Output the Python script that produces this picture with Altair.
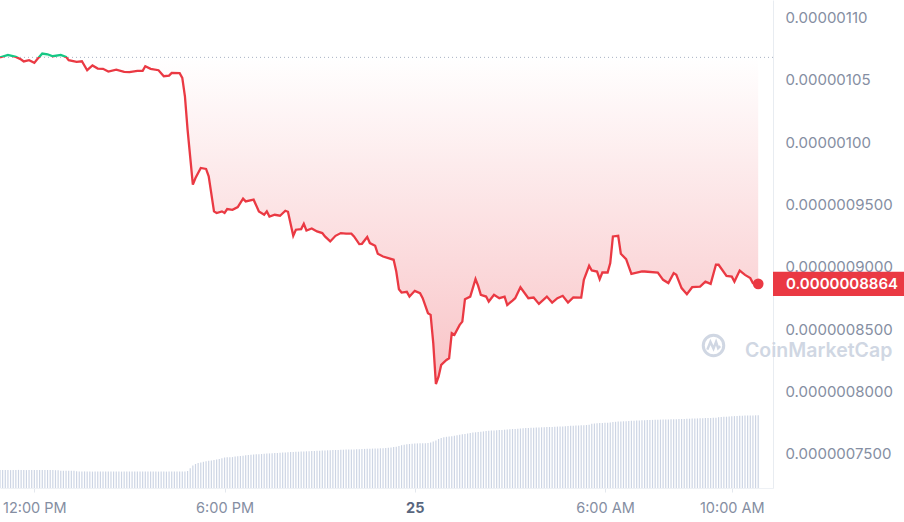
import altair as alt
import pandas as pd

# ---------------------------------------------------------------- data
START = pd.Timestamp("2024-06-24 10:55:00")

# price samples: minutes after the first candle, price in USD
PRICE_MINUTES = [
    0, 15, 30, 40, 45, 55, 65, 70, 80, 90, 100, 115, 125, 130, 145, 155,
    165, 175, 185, 195, 205, 220, 235, 245, 260, 270, 275, 285, 300, 310,
    320, 325, 340, 345, 350, 355, 365, 370, 380, 390, 395, 405, 410, 420,
    425, 430, 440, 450, 460, 465, 480, 490, 500, 505, 510, 520, 530, 540,
    545, 555, 560, 570, 575, 580, 590, 600, 610, 615, 625, 635, 645, 655,
    665, 670, 680, 685, 695, 700, 710, 715, 725, 735, 745, 750, 755, 760,
    770, 775, 785, 795, 800, 810, 815, 820, 825, 830, 835, 845, 850, 855,
    860, 870, 875, 880, 890, 900, 905, 910, 920, 925, 935, 945, 955, 960,
    970, 975, 985, 1000, 1010, 1020, 1035, 1045, 1055, 1065, 1075, 1085,
    1100, 1105, 1115, 1120, 1130, 1135, 1140, 1150, 1155, 1160, 1170, 1175,
    1185, 1195, 1215, 1220, 1245, 1255, 1265, 1275, 1280, 1290, 1300, 1310,
    1325, 1335, 1345, 1355, 1360, 1375, 1385, 1390, 1400, 1410, 1420, 1425,
    1435,
]
PRICES = [
    1.0680e-6, 1.0700e-6, 1.0684e-6, 1.0663e-6, 1.0647e-6, 1.0657e-6, 1.0636e-6, 1.0663e-6,
    1.0711e-6, 1.0705e-6, 1.0689e-6, 1.0700e-6, 1.0684e-6, 1.0657e-6, 1.0644e-6, 1.0649e-6,
    1.0577e-6, 1.0615e-6, 1.0590e-6, 1.0588e-6, 1.0566e-6, 1.0582e-6, 1.0564e-6, 1.0561e-6,
    1.0572e-6, 1.0572e-6, 1.0609e-6, 1.0588e-6, 1.0577e-6, 1.0529e-6, 1.0534e-6, 1.0556e-6,
    1.0553e-6, 1.0516e-6, 1.0368e-6, 1.0101e-6, 0.9659e-6, 0.9713e-6, 0.9793e-6, 0.9785e-6,
    0.9726e-6, 0.9445e-6, 0.9432e-6, 0.9445e-6, 0.9432e-6, 0.9464e-6, 0.9458e-6, 0.9480e-6,
    0.9547e-6, 0.9525e-6, 0.9539e-6, 0.9445e-6, 0.9418e-6, 0.9445e-6, 0.9404e-6, 0.9418e-6,
    0.9410e-6, 0.9450e-6, 0.9442e-6, 0.9249e-6, 0.9298e-6, 0.9303e-6, 0.9346e-6, 0.9292e-6,
    0.9308e-6, 0.9284e-6, 0.9271e-6, 0.9244e-6, 0.9204e-6, 0.9249e-6, 0.9271e-6, 0.9266e-6,
    0.9266e-6, 0.9244e-6, 0.9183e-6, 0.9185e-6, 0.9239e-6, 0.9191e-6, 0.9169e-6, 0.9105e-6,
    0.9083e-6, 0.9070e-6, 0.9057e-6, 0.8963e-6, 0.8821e-6, 0.8794e-6, 0.8800e-6, 0.8762e-6,
    0.8808e-6, 0.8789e-6, 0.8749e-6, 0.8629e-6, 0.8615e-6, 0.8388e-6, 0.8061e-6, 0.8120e-6,
    0.8214e-6, 0.8254e-6, 0.8267e-6, 0.8468e-6, 0.8455e-6, 0.8535e-6, 0.8561e-6, 0.8741e-6,
    0.8762e-6, 0.8902e-6, 0.8848e-6, 0.8776e-6, 0.8762e-6, 0.8722e-6, 0.8776e-6, 0.8749e-6,
    0.8762e-6, 0.8695e-6, 0.8730e-6, 0.8749e-6, 0.8837e-6, 0.8749e-6, 0.8754e-6, 0.8703e-6,
    0.8762e-6, 0.8714e-6, 0.8749e-6, 0.8768e-6, 0.8714e-6, 0.8756e-6, 0.8754e-6, 0.8896e-6,
    0.9009e-6, 0.8971e-6, 0.8963e-6, 0.8902e-6, 0.8955e-6, 0.8955e-6, 0.9030e-6, 0.9244e-6,
    0.9249e-6, 0.9105e-6, 0.9062e-6, 0.8944e-6, 0.8963e-6, 0.8963e-6, 0.8955e-6, 0.8896e-6,
    0.8870e-6, 0.8950e-6, 0.8936e-6, 0.8830e-6, 0.8781e-6, 0.8837e-6, 0.8842e-6, 0.8882e-6,
    0.8864e-6, 0.9017e-6, 0.9017e-6, 0.8928e-6, 0.8922e-6, 0.8882e-6, 0.8971e-6, 0.8936e-6,
    0.8910e-6, 0.8870e-6, 0.8864e-6,
]

# 5-minute volume bars (relative units)
VOLUME_STEP_MIN = 5
VOLUMES = [
    180, 180, 181, 180, 179, 180, 180, 181, 180, 180, 179, 180,
    180, 180, 179, 180, 180, 181, 180, 179, 180, 178, 177, 173,
    173, 172, 173, 172, 172, 167, 166, 165, 166, 165, 165, 164,
    165, 166, 165, 165, 164, 165, 165, 165, 166, 165, 164, 164,
    165, 165, 165, 164, 164, 165, 165, 164, 164, 165, 165, 164,
    164, 165, 165, 164, 165, 165, 164, 164, 165, 165, 166, 170,
    197, 225, 240, 250, 255, 262, 268, 272, 275, 280, 285, 290,
    298, 305, 307, 308, 309, 316, 318, 320, 322, 328, 330, 332,
    335, 337, 338, 340, 342, 344, 346, 348, 349, 350, 352, 355,
    356, 358, 360, 361, 362, 363, 364, 366, 367, 368, 370, 371,
    372, 373, 375, 376, 377, 378, 379, 380, 380, 382, 383, 384,
    385, 386, 386, 387, 387, 390, 391, 392, 393, 394, 394, 395,
    397, 398, 400, 402, 405, 409, 413, 420, 428, 433, 437, 440,
    442, 445, 446, 447, 447, 448, 450, 455, 465, 475, 490, 500,
    508, 512, 514, 518, 522, 527, 532, 537, 541, 545, 550, 554,
    557, 560, 563, 566, 569, 572, 574, 576, 578, 580, 581, 583,
    585, 587, 589, 591, 593, 595, 597, 599, 601, 602, 603, 604,
    605, 607, 608, 609, 610, 611, 613, 614, 615, 616, 618, 620,
    622, 623, 624, 625, 627, 628, 630, 633, 643, 645, 647, 649,
    650, 652, 653, 655, 660, 662, 664, 666, 667, 668, 670, 672,
    673, 675, 676, 677, 678, 679, 680, 681, 682, 683, 684, 685,
    686, 686, 687, 688, 688, 689, 690, 690, 692, 693, 694, 695,
    696, 697, 698, 699, 700, 700, 702, 703, 708, 710, 712, 713,
    715, 717, 719, 720, 722, 723, 725, 725, 726, 726, 727, 727,
]

Y_TICKS = [7.5e-7, 8.0e-7, 8.5e-7, 9.0e-7, 9.5e-7, 1.0e-6, 1.05e-6, 1.10e-6]
PRICE_DOMAIN = [0.7227e-6, 1.1140e-6]
VOLUME_DOMAIN = [0, 4880]
X_TICKS = ["2024-06-24 12:00", "2024-06-24 18:00", "2024-06-25 00:00",
           "2024-06-25 06:00", "2024-06-25 10:00"]
X_DOMAIN = ["2024-06-24 10:55", "2024-06-25 11:18"]

# ---------------------------------------------------------------- style
RED = "#ea3943"
GREEN = "#16c784"
LABEL_GRAY = "#858ea2"
GRID = "#eef1f5"
FONT = "Inter"
W, H = 773, 488


def iso(ts):
    return ts.strftime("%Y-%m-%dT%H:%M:%SZ")


def ms(s):
    return int(pd.Timestamp(s, tz="UTC").value // 1_000_000)


price_df = pd.DataFrame({
    "time": [iso(START + pd.Timedelta(minutes=m)) for m in PRICE_MINUTES],
    "price": PRICES,
})
BASE = PRICES[0]
price_df["base"] = BASE
last_df = price_df.tail(1)

volume_df = pd.DataFrame({
    "time": [iso(START + pd.Timedelta(minutes=VOLUME_STEP_MIN * i)) for i in range(len(VOLUMES))],
    "volume": VOLUMES,
})

# padding=0: bars would otherwise inset the shared time scale
x_scale = alt.Scale(type="utc", domain=[ms(X_DOMAIN[0]), ms(X_DOMAIN[1])], padding=0)
midnight = "utchours(datum.value) == 0"
x_axis = alt.Axis(
    values=[ms(t) for t in X_TICKS],
    labelExpr=f"{midnight} ? utcFormat(datum.value, '%d') : utcFormat(datum.value, '%-I:%M %p')",
    title=None, grid=False, labelFlush=False,
    labelFont=FONT, labelFontSize=14.5, labelPadding=9,
    labelColor={"condition": {"test": midnight, "value": "#58667e"}, "value": LABEL_GRAY},
    labelFontWeight={"condition": {"test": midnight, "value": 700}, "value": 400},
    tickColor="#e3e7ed", tickSize=4, domainColor=GRID,
)


def x_enc():
    return alt.X("time:T", scale=x_scale, axis=x_axis)


price_axis = alt.Axis(
    orient="right", values=Y_TICKS, title=None, ticks=False,
    labelExpr="datum.value >= 0.000000999 ? format(datum.value, '.8f') : format(datum.value, '.10f')",
    labelFont=FONT, labelFontSize=15, labelColor=LABEL_GRAY, labelPadding=12,
    labelBaseline="middle", gridColor=GRID, domainColor="#e8ecf1",
)
price_scale = alt.Scale(domain=PRICE_DOMAIN, nice=False, zero=False)


def y_price(field):
    return alt.Y(f"{field}:Q", scale=price_scale, axis=price_axis)


# colour split at the opening price: green above, red below
hi, lo = max(PRICES), min(PRICES)
f_line = (hi - BASE) / (hi - lo)
top, bot = max(hi, BASE), min(lo, BASE)
f_area = (top - BASE) / (top - bot)

line_grad = alt.LinearGradient(
    gradient="linear", x1=0, x2=0, y1=0, y2=1,
    stops=[alt.GradientStop(color=GREEN, offset=0),
           alt.GradientStop(color=GREEN, offset=f_line),
           alt.GradientStop(color=RED, offset=f_line),
           alt.GradientStop(color=RED, offset=1)],
)
area_grad = alt.LinearGradient(
    gradient="linear", x1=0, x2=0, y1=0, y2=1,
    stops=[alt.GradientStop(color="rgba(22,199,132,0.08)", offset=0),
           alt.GradientStop(color="rgba(22,199,132,0.08)", offset=f_area),
           alt.GradientStop(color="rgba(234,57,67,0.0)", offset=f_area),
           alt.GradientStop(color="rgba(234,57,67,0.30)", offset=1)],
)

# ---------------------------------------------------------------- layers
volume = alt.Chart(volume_df).mark_bar(width=1.2, color="#cdd5e4").encode(
    x=x_enc(),
    y=alt.Y("volume:Q", scale=alt.Scale(domain=VOLUME_DOMAIN, nice=False), axis=None),
)

area = alt.Chart(price_df).mark_area(color=area_grad).encode(
    x=x_enc(), y=y_price("price"), y2="base:Q",
)
baseline = alt.Chart(last_df).mark_rule(
    color="#a9b2c3", strokeDash=[1, 3], strokeWidth=1
).encode(y=y_price("base"))
line = alt.Chart(price_df).mark_line(color=line_grad, strokeWidth=2.3).encode(
    x=x_enc(), y=y_price("price"),
)
end_dot = alt.Chart(last_df).mark_point(
    filled=True, opacity=1, size=115, color=RED
).encode(x=x_enc(), y=y_price("price"))

TAG_SHAPE = "M -1 -0.1855 L 1 -0.1855 L 1 0.1855 L -1 0.1855 Z"
tag = alt.Chart(last_df).mark_point(
    shape=TAG_SHAPE, filled=True, opacity=1, size=131 * 131, color=RED, strokeWidth=0
).encode(x=alt.value(W + 65.5), y=y_price("price"))
tag_text = alt.Chart(last_df).mark_text(
    align="left", baseline="middle", color="white", font=FONT, fontSize=15, fontWeight=600
).encode(x=alt.value(W + 13), y=y_price("price"), text=alt.Text("price:Q", format=".10f"))

mark_df = pd.DataFrame({"brand": ["CoinMarketCap"]})
WM = "#d0d7e3"
wm_ring = alt.Chart(mark_df).mark_point(
    shape="circle", filled=False, opacity=1, size=420, strokeWidth=3, color=WM
).encode(x=alt.value(713.5), y=alt.value(345.5))
wm_wave = alt.Chart(mark_df).mark_point(
    shape="M -0.6 0.4 L -0.3 -0.35 L 0 0.3 L 0.25 -0.35 L 0.45 0.25 L 0.65 0.05",
    filled=False, opacity=1, size=420, strokeWidth=2.5, color=WM,
).encode(x=alt.value(713.5), y=alt.value(345.5))
wm_text = alt.Chart(mark_df).mark_text(
    align="left", baseline="middle", font=FONT, fontSize=19.5, fontWeight=600, color=WM
).encode(x=alt.value(745), y=alt.value(350.5), text="brand:N")

price_layers = alt.layer(area, baseline, line, end_dot, tag, tag_text,
                         wm_ring, wm_wave, wm_text)

chart = (
    alt.layer(volume, price_layers)
    .resolve_scale(y="independent")
    .properties(
        width=W, height=H,
        autosize=alt.AutoSizeParams(type="none"),
        padding={"left": 0, "top": 0, "right": 904 - W, "bottom": 522 - H},
        background="white",
    )
    .configure_view(stroke=None)
)

chart.save("out.html", embed_options={"renderer": "svg", "actions": False})
